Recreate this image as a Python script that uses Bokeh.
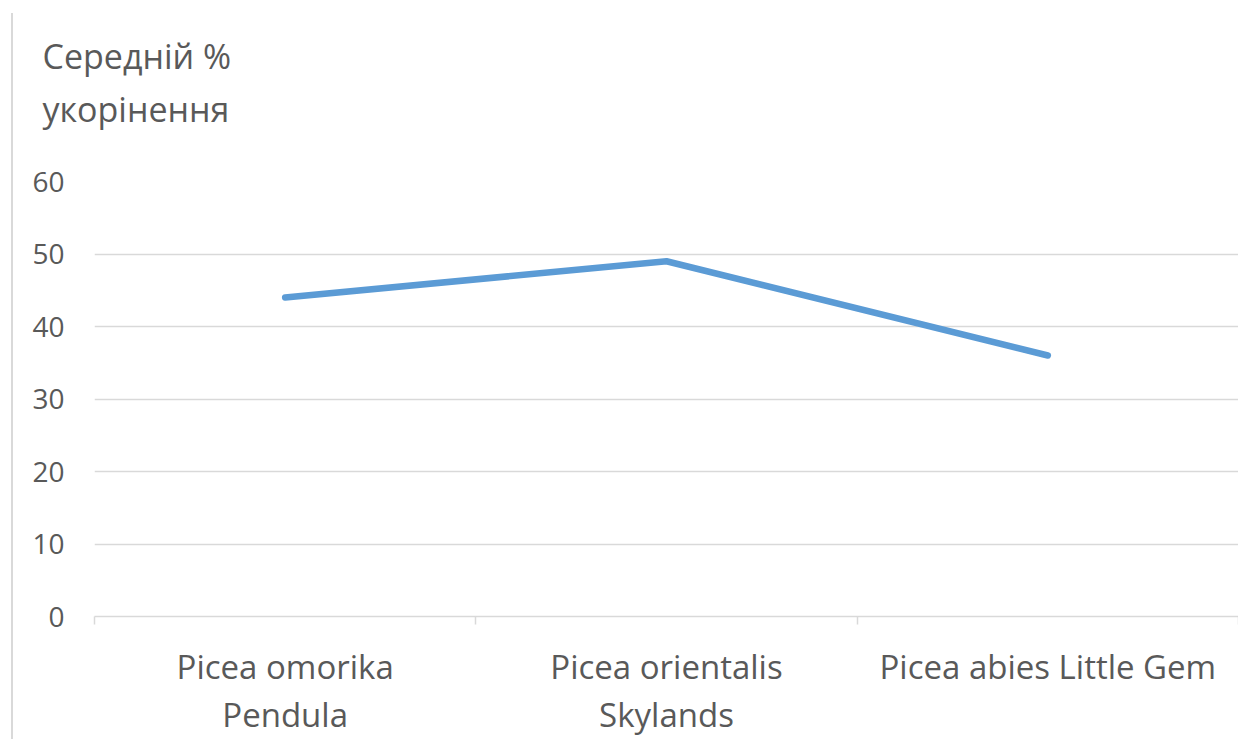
from bokeh.plotting import figure
from bokeh.models import FactorRange, Range1d, LinearAxis, FixedTicker, Label
from bokeh.embed import file_html
from bokeh.resources import INLINE

# Mean rooting percentage of spruce cuttings by cultivar
categories = ["Picea omorika\nPendula", "Picea orientalis\nSkylands", "Picea abies Little Gem"]
rooting_pct = [44, 49, 36]
y_ticks = [0, 10, 20, 30, 40, 50, 60]
y_title = "Середній %\nукорінення"

TEXT = "#595959"
GRID = "#D9D9D9"
BLUE = "#5B9BD5"
FONT = "Open Sans"

W, H = 1238, 739

p = figure(width=W, height=H,
           x_range=FactorRange(*categories), y_range=Range1d(0, 60),
           output_backend="svg", toolbar_location=None,
           x_axis_location=None, y_axis_location="left",
           min_border_left=94, min_border_right=0,
           min_border_top=181, min_border_bottom=123)
p.outline_line_color = None
p.background_fill_color = "white"
p.border_fill_color = None
# thin chart-area border running down the left side of the page
p.styles = {
    "background-color": "white",
    "background-image": f"linear-gradient({GRID}, {GRID})",
    "background-size": f"2px {H - 13}px",
    "background-position": "11px 13px",
    "background-repeat": "no-repeat",
}

# value axis
ya = p.yaxis[0]
ya.ticker = FixedTicker(ticks=y_ticks)
ya.axis_line_color = None
ya.major_tick_line_color = None
ya.minor_tick_line_color = None
ya.major_label_standoff = 24
ya.major_label_text_font = FONT
ya.major_label_text_font_size = "28px"
ya.major_label_text_color = TEXT

p.xgrid.visible = False
p.ygrid.grid_line_color = GRID
p.ygrid.grid_line_width = 1.5

# category axis: names at the category centres, short marks between categories
centres = [i + 0.5 for i in range(len(categories))]
edges = [float(i) for i in range(len(categories) + 1)]
xa = LinearAxis(ticker=FixedTicker(ticks=centres, minor_ticks=edges),
                major_label_overrides={c: name for c, name in zip(centres, categories)},
                axis_line_color=GRID, axis_line_width=1.5,
                major_tick_line_color=None,
                minor_tick_line_color=GRID, minor_tick_line_width=1.5,
                minor_tick_in=0, minor_tick_out=8,
                major_label_standoff=19,
                major_label_text_font=FONT,
                major_label_text_font_size="33px",
                major_label_text_line_height=1.07,
                major_label_text_color=TEXT)
p.add_layout(xa, "below")

p.line(x=categories, y=rooting_pct, line_width=6.5, line_color=BLUE,
       line_cap="round", line_join="round")

# value-axis title, two lines in the space above the plot area
p.add_layout(Label(x=-52, y=149, x_units="screen", y_units="screen",
                   text=y_title, text_font=FONT, text_font_size="34px",
                   text_color=TEXT, text_align="left", text_baseline="top",
                   text_line_height=1.17), "above")

open("out.html", "w").write(file_html(p, INLINE))
